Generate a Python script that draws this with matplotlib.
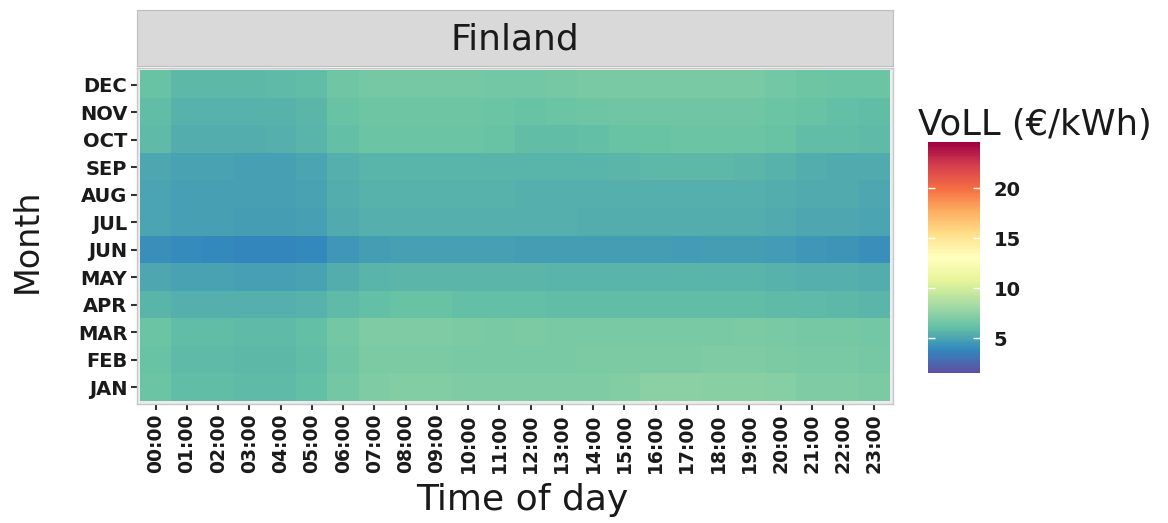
"""
VoLL heatmap for Finland: month x hour of day.
Each tile is the value of lost load in EUR/kWh.
"""

import matplotlib.pyplot as plt
import numpy as np
from matplotlib import font_manager

# -------------------------------------------------------
# DATA
# -------------------------------------------------------

months = ["JAN", "FEB", "MAR", "APR", "MAY", "JUN",
          "JUL", "AUG", "SEP", "OCT", "NOV", "DEC"]
hours = [f"{h:02d}:00" for h in range(24)]

# VoLL per hour (00:00 ... 23:00), one list per month
voll_jan = [6.3, 6.0, 6.0, 5.9, 5.9, 6.1, 6.6, 7.0, 7.1, 7.1, 7.0, 7.0,
            7.0, 7.0, 7.0, 7.1, 7.4, 7.4, 7.3, 7.3, 7.2, 7.0, 7.0, 6.9]
voll_feb = [6.2, 5.9, 5.9, 5.8, 5.8, 6.0, 6.5, 6.9, 6.9, 6.9, 6.8, 6.8,
            6.8, 6.8, 6.9, 6.9, 6.9, 6.9, 7.0, 7.0, 6.9, 6.8, 6.8, 6.7]
voll_mar = [6.3, 6.0, 6.0, 5.9, 5.9, 6.1, 6.6, 7.0, 7.0, 7.0, 6.9, 6.8,
            6.9, 6.8, 6.8, 6.8, 6.8, 6.8, 6.8, 6.9, 6.8, 6.7, 6.7, 6.6]
voll_apr = [5.6, 5.4, 5.4, 5.4, 5.4, 5.5, 5.9, 6.1, 6.2, 6.2, 6.1, 6.1,
            6.1, 6.0, 6.0, 6.0, 6.0, 6.0, 6.0, 6.0, 5.9, 5.9, 5.8, 5.7]
voll_may = [5.1, 4.9, 4.9, 4.8, 4.8, 4.9, 5.3, 5.6, 5.7, 5.7, 5.7, 5.7,
            5.7, 5.6, 5.6, 5.6, 5.6, 5.6, 5.6, 5.6, 5.5, 5.4, 5.4, 5.3]
voll_jun = [4.2, 4.0, 3.9, 3.8, 3.8, 3.9, 4.4, 4.7, 4.8, 4.8, 4.8, 4.8,
            4.7, 4.7, 4.7, 4.7, 4.7, 4.6, 4.7, 4.7, 4.6, 4.4, 4.3, 4.2]
voll_jul = [5.0, 4.8, 4.8, 4.7, 4.7, 4.8, 5.2, 5.4, 5.4, 5.4, 5.4, 5.4,
            5.4, 5.4, 5.3, 5.3, 5.3, 5.3, 5.3, 5.3, 5.2, 5.1, 5.1, 5.0]
voll_aug = [5.0, 4.8, 4.8, 4.8, 4.8, 4.9, 5.3, 5.5, 5.5, 5.5, 5.5, 5.5,
            5.4, 5.4, 5.4, 5.4, 5.4, 5.4, 5.4, 5.4, 5.3, 5.2, 5.2, 5.1]
voll_sep = [5.1, 4.9, 4.9, 4.8, 4.8, 5.0, 5.4, 5.6, 5.6, 5.6, 5.6, 5.6,
            5.6, 5.6, 5.6, 5.7, 5.8, 5.8, 5.8, 5.7, 5.5, 5.3, 5.2, 5.2]
voll_oct = [5.9, 5.3, 5.3, 5.3, 5.4, 5.6, 6.1, 6.3, 6.3, 6.3, 6.3, 6.2,
            6.0, 6.0, 6.1, 6.2, 6.2, 6.3, 6.3, 6.3, 6.2, 6.0, 6.0, 5.9]
voll_nov = [6.0, 5.5, 5.5, 5.5, 5.5, 5.7, 6.2, 6.4, 6.4, 6.4, 6.4, 6.3,
            6.2, 6.3, 6.4, 6.5, 6.5, 6.5, 6.5, 6.5, 6.3, 6.2, 6.1, 6.0]
voll_dec = [6.2, 5.8, 5.8, 5.8, 5.9, 6.0, 6.5, 6.7, 6.7, 6.7, 6.7, 6.6,
            6.6, 6.7, 6.8, 6.8, 6.8, 6.8, 6.8, 6.8, 6.6, 6.4, 6.3, 6.3]

# colour scale limits are shared with the other countries
voll_min, voll_max = 1.5, 24.6
bar_ticks = [5, 10, 15, 20]

voll = np.array([voll_jan, voll_feb, voll_mar, voll_apr, voll_may, voll_jun,
                 voll_jul, voll_aug, voll_sep, voll_oct, voll_nov, voll_dec])

# -------------------------------------------------------
# FONTS
# -------------------------------------------------------

installed = {f.name for f in font_manager.fontManager.ttflist}
if "Liberation Sans Narrow" in installed:
    hour_font, hour_size = "Liberation Sans Narrow", 19
else:
    hour_font, hour_size = "DejaVu Sans", 13.5

plt.rcParams["font.family"] = "DejaVu Sans"

# -------------------------------------------------------
# FIGURE LAYOUT (pixel boxes -> figure fractions)
# -------------------------------------------------------

W, H = 1168, 523
fig = plt.figure(figsize=(W / 100, H / 100), dpi=100)


def box(left, top, right, bottom):
    return [left / W, 1 - bottom / H, (right - left) / W, (bottom - top) / H]


# -------------------------------------------------------
# HEATMAP PANEL
# -------------------------------------------------------

ax = fig.add_axes(box(137, 68, 893, 404))
ax.set_facecolor("#EBEBEB")
im = ax.imshow(voll, cmap="Spectral_r", vmin=voll_min, vmax=voll_max,
               aspect="auto", origin="lower", interpolation="nearest",
               extent=(-0.5, len(hours) - 0.5, -0.5, len(months) - 0.5))
ax.set_xlim(-0.6, len(hours) - 0.4)
ax.set_ylim(-0.6, len(months) - 0.4)

ax.set_xticks(range(len(hours)))
ax.set_xticklabels(hours, rotation=90, family=hour_font, fontsize=hour_size,
                   fontweight="bold", color="#1a1a1a")
ax.set_yticks(range(len(months)))
ax.set_yticklabels(months, fontsize=14, fontweight="bold", color="#1a1a1a")
ax.tick_params(length=4, width=1.5, color="#333333", pad=3)
for side in ax.spines.values():
    side.set_color("#C8C8C8")
    side.set_linewidth(1.0)

# -------------------------------------------------------
# FACET STRIP
# -------------------------------------------------------

strip = fig.add_axes(box(137, 10, 893, 66))
strip.set_facecolor("#D9D9D9")
strip.set_xticks([])
strip.set_yticks([])
for side in strip.spines.values():
    side.set_color("#BDBDBD")
strip.text(0.5, 0.47, "Finland", ha="center", va="center",
           fontsize=26, color="#1a1a1a", transform=strip.transAxes)

# -------------------------------------------------------
# AXIS TITLES
# -------------------------------------------------------

fig.text(27 / W, 1 - 241 / H, "Month", rotation=90, ha="center",
         va="center", fontsize=24, color="#1a1a1a")
fig.text(522 / W, 1 - 500 / H, "Time of day", ha="center", va="center",
         fontsize=26, color="#1a1a1a")

# -------------------------------------------------------
# COLOUR BAR
# -------------------------------------------------------

cax = fig.add_axes(box(928, 142, 980, 373))
cb = fig.colorbar(im, cax=cax, ticks=bar_ticks)
cb.outline.set_visible(False)
cax.tick_params(direction="in", left=True, right=True, length=5, width=1,
                color="white", labelsize=14, pad=10)
for lab in cax.get_yticklabels():
    lab.set_fontweight("bold")
    lab.set_color("#1a1a1a")

fig.text(918 / W, 1 - 125 / H, "VoLL (€/kWh)", ha="left", va="center",
         fontsize=25.5, color="#1a1a1a")

fig.savefig("out.png", dpi=100)
